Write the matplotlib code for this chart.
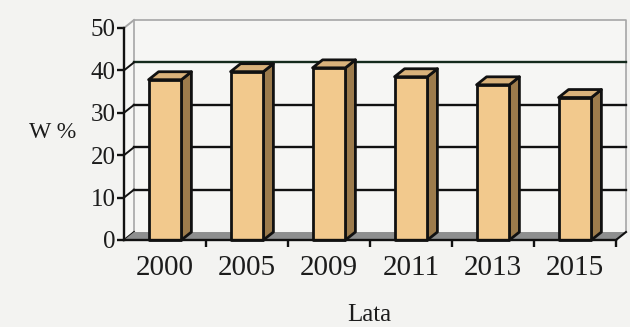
import numpy as np
import matplotlib.pyplot as plt
from matplotlib.patches import Polygon

plt.rcParams['font.family'] = ['Liberation Serif', 'DejaVu Serif']

lata = ['2000', '2005', '2009', '2011', '2013', '2015']
wartosci = [37.8, 39.7, 40.6, 38.5, 36.6, 33.6]
skala = [0, 10, 20, 30, 40, 50]

# perspective offset of the back wall (x in categories, y in %)
dx, dy = 0.122, 1.88
pol = 0.2   # half width of a bar

c_front = '#f2c98d'
c_side = '#9c7b4c'
c_top = '#d9b27b'
c_floor = '#8e8f8f'
c_wall = '#a6a6a6'
tlo = '#f3f3f1'
czarny = '#111111'

fig = plt.figure(figsize=(6.3, 3.27), dpi=100, facecolor=tlo)
ax = fig.add_axes([124 / 630, 87 / 327, 502 / 630, 220 / 327])
ax.set_facecolor('#f6f6f4')
n = len(lata)
x0, x1 = -0.5, n - 0.5
ax.set_xlim(x0, x1 + dx)
ax.set_ylim(0, 50 + dy)
for s in ax.spines.values():
    s.set_visible(False)

# back wall frame
ax.plot([x0 + dx, x0 + dx, x1 + dx, x1 + dx], [dy, 50 + dy, 50 + dy, dy],
        color=c_wall, lw=1.2, clip_on=False, zorder=1)
# grid on the back wall and on the (thin) left wall
for v in skala[1:-1]:
    ax.plot([x0 + dx, x1 + dx], [v + dy, v + dy],
            color='#142a1c' if v == 40 else czarny, lw=1.7,
            clip_on=False, zorder=1)
for v in skala:
    ax.plot([x0, x0 + dx], [v, v + dy], color=czarny if v < 50 else c_wall,
            lw=1.4, clip_on=False, zorder=2)

# floor
ax.add_patch(Polygon([(x0, 0), (x1, 0), (x1 + dx, dy), (x0 + dx, dy)],
                     closed=True, facecolor=c_floor, edgecolor='none',
                     zorder=2, clip_on=False))
ax.plot([x1, x1 + dx], [0, dy], color=czarny, lw=1.5, clip_on=False, zorder=3)

# bars
for i, w in enumerate(wartosci):
    l, r = i - pol, i + pol
    front = [(l, 0), (r, 0), (r, w), (l, w)]
    side = [(r, 0), (r + dx, dy), (r + dx, w + dy), (r, w)]
    top = [(l, w), (r, w), (r + dx, w + dy), (l + dx, w + dy)]
    for pts, col in [(side, c_side), (top, c_top), (front, c_front)]:
        ax.add_patch(Polygon(pts, closed=True, facecolor=col, edgecolor=czarny,
                             lw=2.0, joinstyle='round', zorder=4, clip_on=False))

# front axes
ax.plot([x0, x0], [0, 50], color=czarny, lw=1.7, clip_on=False, zorder=5)
ax.plot([x0, x1], [0, 0], color=czarny, lw=1.7, clip_on=False, zorder=5)

ax.set_yticks(skala)
ax.set_yticklabels([str(v) for v in skala], fontsize=18, color='#1c1c1c')
ax.tick_params(axis='y', direction='out', length=5, width=1.7, color=czarny, pad=1)
ax.set_xticks(np.arange(n) + 0.5)
ax.set_xticklabels([])
ax.tick_params(axis='x', direction='out', length=5, width=1.7, color=czarny)
ax.set_xticks(np.arange(n), minor=True)
ax.set_xticklabels(lata, minor=True, fontsize=21, color='#1c1c1c')
ax.tick_params(axis='x', which='minor', length=0, pad=11)

fig.text(53 / 630, 1 - 133 / 327, 'W %', fontsize=17, color='#1c1c1c',
         ha='center', va='center')
fig.text(369 / 630, 1 - 326 / 327, 'Lata', fontsize=18, color='#1c1c1c',
         ha='center', va='bottom')

fig.savefig('out.png', dpi=100, facecolor=tlo)
